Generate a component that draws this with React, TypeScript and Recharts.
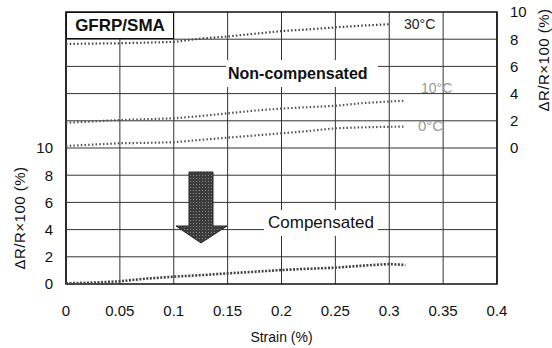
import React from 'react';
import { LineChart, Line, XAxis, YAxis, CartesianGrid, ReferenceArea, ReferenceLine, Label } from 'recharts';

const strain = [0, 0.025, 0.05, 0.075, 0.1, 0.125, 0.15, 0.175, 0.2, 0.225, 0.25, 0.275, 0.3, 0.315];

// non-compensated (right axis)
const temp30 = [7.65, 7.68, 7.7, 7.75, 7.8, 8.05, 8.2, 8.4, 8.6, 8.72, 8.87, 9.0, 9.1, null];
const temp10 = [1.86, 1.95, 2.06, 2.12, 2.18, 2.35, 2.55, 2.75, 2.9, 3.0, 3.1, 3.3, 3.42, 3.48];
const temp0 = [0.15, 0.25, 0.35, 0.38, 0.42, 0.6, 0.76, 0.92, 1.08, 1.25, 1.45, 1.52, 1.56, 1.57];

// compensated (left axis)
const compensated = [0.05, 0.1, 0.2, 0.4, 0.54, 0.65, 0.78, 0.9, 1.03, 1.12, 1.2, 1.35, 1.47, 1.4];

const xTicks = [0, 0.05, 0.1, 0.15, 0.2, 0.25, 0.3, 0.35, 0.4];
const leftTicks = [0, 2, 4, 6, 8, 10];
const rightTicks = [0, 2, 4, 6, 8, 10];
const gridTicks = [2, 4, 6, 8, 10, 12, 14, 16, 18];

const rows = strain.map((s, i) => ({
  strain: s,
  t30: temp30[i],
  t10: temp10[i],
  t0: temp0[i],
  comp: compensated[i],
}));

const font = "'Liberation Sans', Arial, sans-serif";
const tickStyle = { fontSize: 15, fill: '#111', fontFamily: font };

export default function App() {
  return (
    <div style={{ position: 'absolute', left: 0, top: 0, width: 552, height: 348, background: '#fff', fontFamily: font }}>
      <LineChart width={552} height={348} data={rows} margin={{ top: 12, right: 0, bottom: 0, left: 0 }}>
        <CartesianGrid horizontal={false} stroke="#333" strokeWidth={1} />
        <XAxis
          dataKey="strain"
          type="number"
          domain={[0, 0.4]}
          ticks={xTicks}
          height={64}
          tickLine={false}
          axisLine={false}
          tickSize={0}
          tickMargin={21}
          tick={tickStyle}
        >
          <Label value="Strain (%)" position="insideBottom" offset={6} style={{ fontSize: 14, fill: '#111', fontFamily: font }} />
        </XAxis>
        <YAxis
          yAxisId="left"
          width={66}
          domain={[0, 20]}
          ticks={leftTicks}
          tickLine={false}
          axisLine={false}
          tickSize={0}
          tickMargin={13}
          tick={tickStyle}
        />
        <YAxis
          yAxisId="right"
          orientation="right"
          width={55}
          domain={[-10, 10]}
          ticks={rightTicks}
          tickLine={false}
          axisLine={false}
          tickSize={0}
          tickMargin={13}
          tick={tickStyle}
        />
        {gridTicks.map((t) => (
          <ReferenceLine key={t} yAxisId="left" y={t} stroke="#333" strokeWidth={1} />
        ))}
        <ReferenceArea yAxisId="left" x1={0} x2={0.4} y1={0} y2={20} fill="none" stroke="#111" strokeWidth={1.6} />
        <Line yAxisId="right" dataKey="t30" stroke="#444" strokeWidth={2.2} strokeDasharray="1.5 2.2" dot={false} isAnimationActive={false} />
        <Line yAxisId="right" dataKey="t10" stroke="#555" strokeWidth={2.2} strokeDasharray="1.5 2.2" dot={false} isAnimationActive={false} />
        <Line yAxisId="right" dataKey="t0" stroke="#555" strokeWidth={2.2} strokeDasharray="1.5 2.2" dot={false} isAnimationActive={false} />
        <Line yAxisId="left" dataKey="comp" stroke="#444" strokeWidth={2.6} strokeDasharray="2 1.5" dot={false} isAnimationActive={false} />
      </LineChart>

      {/* annotations */}
      <div style={{ position: 'absolute', left: 66, top: 12, width: 108, height: 27, boxSizing: 'border-box', border: '1.5px solid #111', background: '#fff', fontWeight: 700, fontSize: 17, lineHeight: '25px', textAlign: 'center', color: '#111' }}>
        GFRP/SMA
      </div>
      <div style={{ position: 'absolute', left: 226, top: 60, width: 152, height: 27, background: '#fff', fontWeight: 700, fontSize: 16, lineHeight: '27px', paddingLeft: 2, boxSizing: 'border-box', color: '#111' }}>
        Non-compensated
      </div>
      <div style={{ position: 'absolute', left: 264, top: 210, width: 114, height: 26, background: '#fff', fontSize: 17, lineHeight: '26px', paddingLeft: 4, boxSizing: 'border-box', color: '#111' }}>
        Compensated
      </div>
      <div style={{ position: 'absolute', left: 404, top: 16, fontSize: 14, color: '#222' }}>30°C</div>
      <div style={{ position: 'absolute', left: 421, top: 80, fontSize: 14, color: '#999' }}>10°C</div>
      <div style={{ position: 'absolute', left: 418, top: 117, fontSize: 15, color: '#999' }}>0°C</div>

      <svg width={552} height={348} style={{ position: 'absolute', left: 0, top: 0, pointerEvents: 'none' }}>
        <defs>
          <pattern id="hatch" width="3" height="3" patternUnits="userSpaceOnUse">
            <rect width="3" height="3" fill="#3c3c3c" />
            <rect x="1" y="1" width="1" height="1" fill="#8a8a8a" />
          </pattern>
        </defs>
        <polygon
          points="189,172 213,172 213,226 227,226 201,243 176,226 189,226"
          fill="url(#hatch)"
          stroke="#222"
          strokeWidth={1}
        />
        <text x={19} y={218} transform="rotate(-90 19 218)" textAnchor="middle" dominantBaseline="central" fontSize={15} fill="#111" fontFamily={font} letterSpacing={0.5}>
          ΔR/R×100 (%)
        </text>
        <text x={543} y={60} transform="rotate(-90 543 60)" textAnchor="middle" dominantBaseline="central" fontSize={15} fill="#111" fontFamily={font} letterSpacing={0.5}>
          ΔR/R×100 (%)
        </text>
      </svg>
    </div>
  );
}
